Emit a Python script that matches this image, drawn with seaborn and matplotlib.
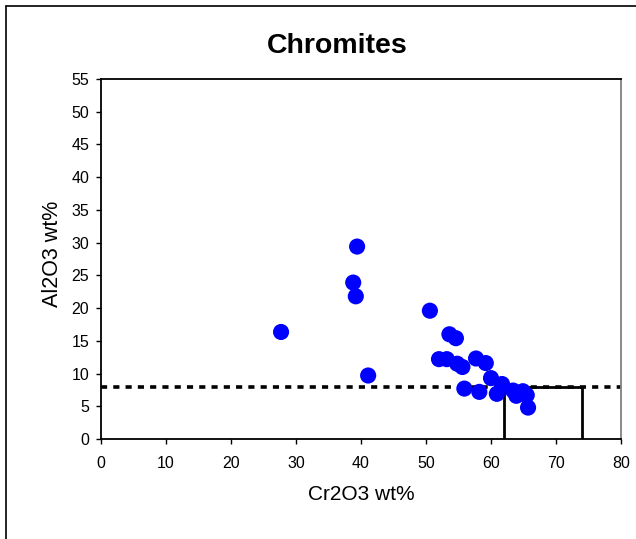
import matplotlib
matplotlib.use("Agg")
import matplotlib.pyplot as plt
import seaborn as sns
import pandas as pd
from matplotlib.lines import Line2D

# Data
cr2o3 = [27.7, 39.4, 38.8, 39.2, 41.1, 50.6, 53.6, 54.6, 52.0, 53.2, 54.8, 55.6,
         57.7, 59.2, 55.9, 58.2, 60.0, 61.7, 60.9, 63.4, 63.9, 64.9, 65.5, 65.7]
al2o3 = [16.35, 29.4, 23.9, 21.8, 9.7, 19.6, 16.0, 15.4, 12.2, 12.2, 11.5, 11.0,
         12.3, 11.6, 7.7, 7.2, 9.3, 8.4, 6.9, 7.4, 6.6, 7.3, 6.7, 4.8]
dash_level = 8
box_x = [62, 62, 74, 74]
box_y = [0, 8, 8, 0]
x_ticks = list(range(0, 81, 10))
y_ticks = list(range(0, 56, 5))

df = pd.DataFrame({"Cr2O3 wt%": cr2o3, "Al2O3 wt%": al2o3})

sns.set_style("white", {"xtick.bottom": True, "ytick.left": True,
                        "text.color": "black", "axes.labelcolor": "black",
                        "xtick.color": "black", "ytick.color": "black"})
plt.rcParams["font.family"] = ["Liberation Sans", "DejaVu Sans"]

W, H = 636, 539
fig = plt.figure(figsize=(W / 100, H / 100), dpi=100)
ax = fig.add_axes([101 / W, 1 - 439 / H, 520 / W, 360 / H])

sns.scatterplot(data=df, x="Cr2O3 wt%", y="Al2O3 wt%", ax=ax, color="#0000FF",
                s=135, edgecolor="none", zorder=3, legend=False)

ax.plot([0, 80], [dash_level, dash_level], color="black", lw=2.6,
        linestyle=(0, (1.7, 1.7)), zorder=2)
ax.plot(box_x, box_y, color="black", lw=2.0, zorder=2, solid_joinstyle="miter")

ax.set_xlim(0, 80)
ax.set_ylim(0, 55)
ax.set_xticks(x_ticks)
ax.set_yticks(y_ticks)
ax.tick_params(axis="both", direction="out", length=3.6, width=1, color="black",
               labelcolor="black", labelsize=11.5, bottom=True, left=True)
ax.tick_params(axis="y", pad=5)
ax.tick_params(axis="x", pad=8.5)

for side in ["left", "bottom", "top"]:
    ax.spines[side].set_color("black")
    ax.spines[side].set_linewidth(1.3)
ax.spines["right"].set_color("#808080")
ax.spines["right"].set_linewidth(1.3)

ax.set_xlabel("")
ax.set_ylabel("")
fig.text(361 / W, 1 - 495 / H, "Cr2O3 wt%", ha="center", va="center", fontsize=15,
         color="black")
fig.text(53 / W, 1 - 254 / H, "Al2O3 wt%", ha="center", va="center", fontsize=15.5,
         rotation=90, color="black")
fig.text(337 / W, 1 - 46 / H, "Chromites", ha="center", va="center", fontsize=20.5,
         fontweight="bold", color="black")

# outer chart frame (left and top edges visible)
fig.add_artist(Line2D([5.5 / W, 5.5 / W], [0, 1 - 5.5 / H], transform=fig.transFigure,
                      color="black", lw=1.2))
fig.add_artist(Line2D([5.5 / W, 1], [1 - 5.5 / H, 1 - 5.5 / H], transform=fig.transFigure,
                      color="black", lw=1.2))

fig.savefig("out.png", dpi=100, facecolor="white")
